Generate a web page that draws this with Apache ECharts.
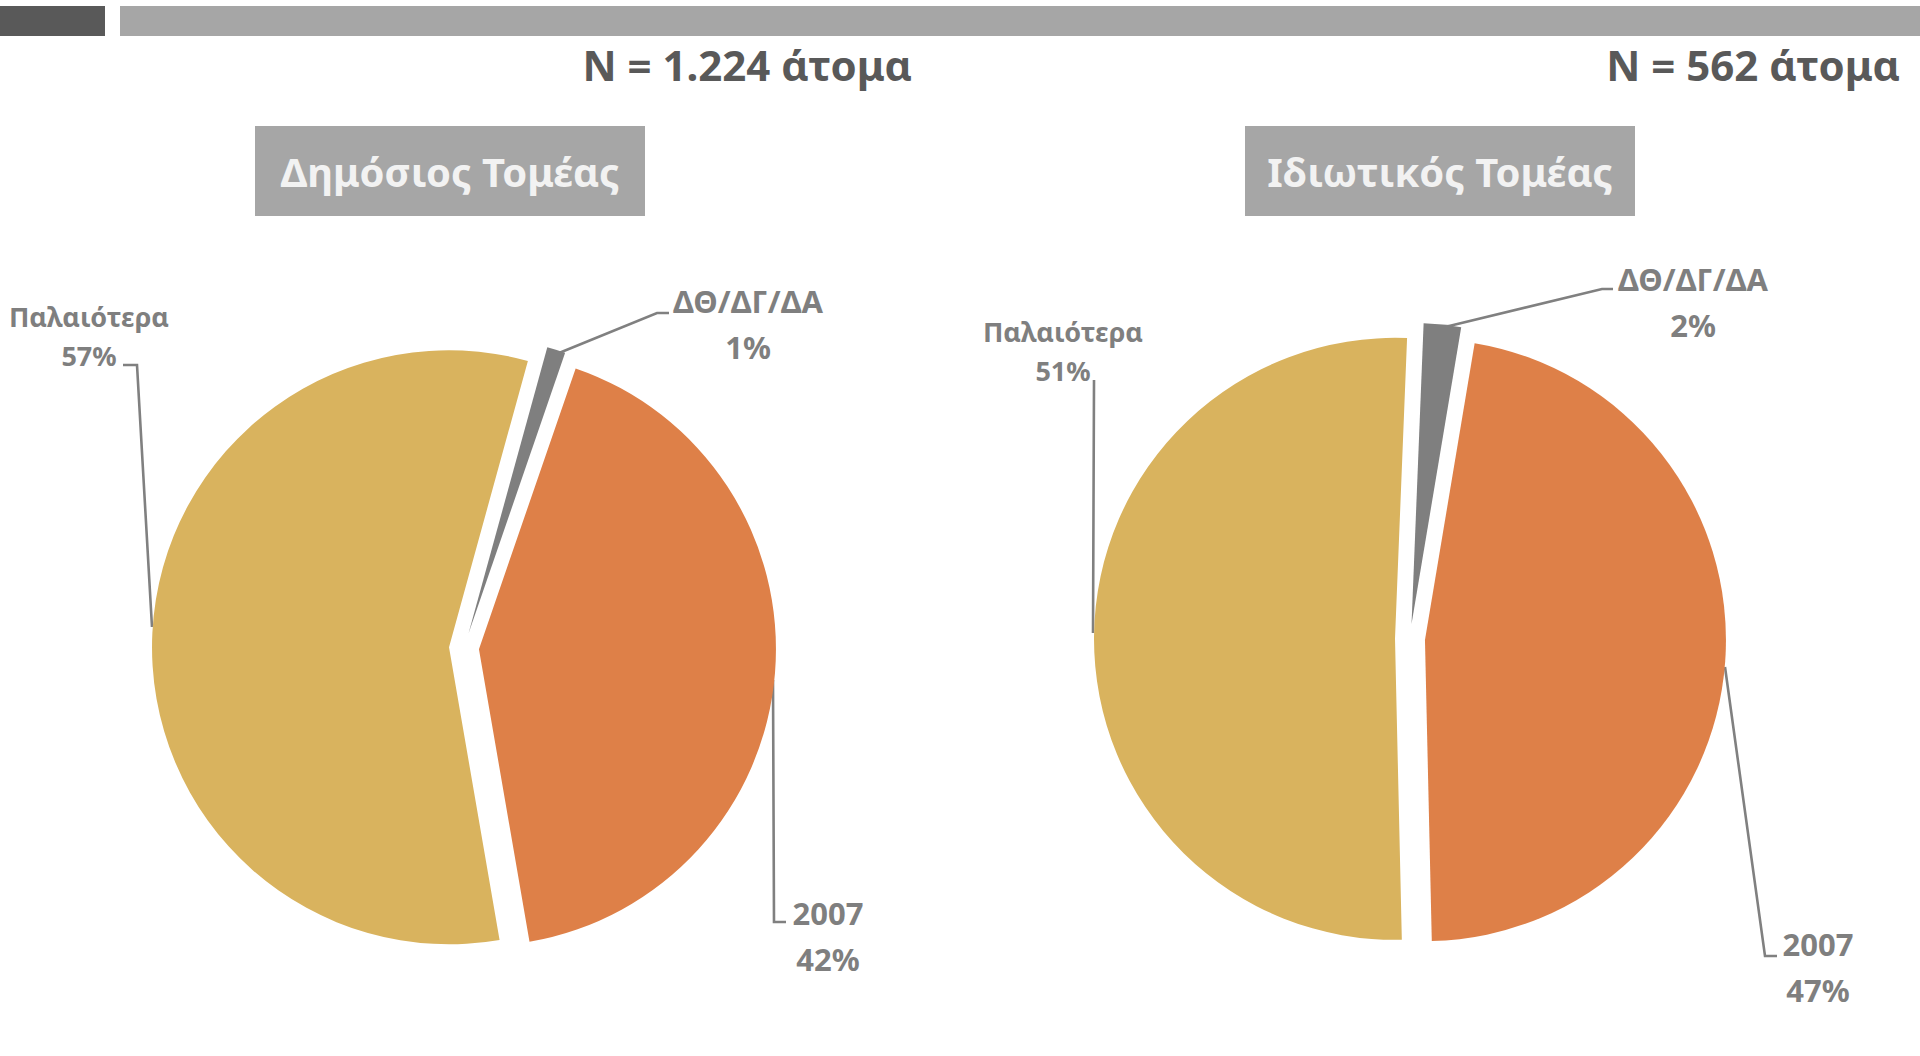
<!DOCTYPE html>
<html>
<head>
<meta charset="utf-8">
<script src="https://cdn.jsdelivr.net/npm/echarts@6/dist/echarts.min.js"></script>
<style>
html, body { margin: 0; padding: 0; background: #ffffff; }
#chartmain { width: 1920px; height: 1056px; }
</style>
</head>
<body>
<div id="chartmain"></div>
<script>
var categories = ['ΔΘ/ΔΓ/ΔΑ', '2007', 'Παλαιότερα'];
var publicValues = [1, 42, 57];
var privateValues = [2, 47, 51];
var panelTitles = ['Δημόσιος Τομέας', 'Ιδιωτικός Τομέας'];
var sampleSizes = ['N = 1.224 άτομα', 'N = 562 άτομα'];
var sliceColors = ['#7f7f7f', '#de8048', '#d9b35e'];

var EXPLODE = 15;

// where each label sits (centre) and its leader line, same order as categories
var publicLabels = [
    { x: 748, y: 324, line: [[559, 353], [657, 313], [669, 313]] },
    { x: 828, y: 936, line: [[773, 680], [774, 922], [786, 922]] },
    { x: 89, y: 336, line: [[152, 627], [137, 365], [123, 365]] }
];
var privateLabels = [
    { x: 1693, y: 302, line: [[1445, 327], [1602, 289], [1613, 289]] },
    { x: 1818, y: 967, line: [[1725, 667], [1765, 956], [1777, 956]] },
    { x: 1063, y: 351, line: [[1093, 633], [1094, 382], [1094, 380]] }
];

// shift of an exploded slice, label and line live inside the moved sector
function sliceShift(values, startAngle, idx) {
    var total = 0, before = 0;
    values.forEach(function (v, i) { total += v; if (i < idx) before += v; });
    var mid = (startAngle - (before + values[idx] / 2) / total * 360) * Math.PI / 180;
    return [EXPLODE * Math.cos(mid), -EXPLODE * Math.sin(mid)];
}

function makePie(values, center, radius, startAngle, labels) {
    return {
        type: 'pie',
        center: center,
        radius: radius,
        startAngle: startAngle,
        clockwise: true,
        selectedMode: 'multiple',
        selectedOffset: EXPLODE,
        avoidLabelOverlap: false,
        emphasis: { disabled: true },
        label: {
            show: true,
            position: 'outside',
            formatter: '{b}\n{c}%',
            color: '#7f7f7f',
            fontFamily: 'Noto Sans',
            fontWeight: 'bold',
            fontSize: 31,
            lineHeight: 46
        },
        labelLine: { show: true, lineStyle: { color: '#808080', width: 2.6 } },
        labelLayout: function (p) {
            var l = labels[p.dataIndex];
            var r = p.labelRect;
            var s = sliceShift(values, startAngle, p.dataIndex);
            var ax = p.align === 'left' ? r.x : (p.align === 'right' ? r.x + r.width : r.x + r.width / 2);
            var ay = p.verticalAlign === 'top' ? r.y : (p.verticalAlign === 'bottom' ? r.y + r.height : r.y + r.height / 2);
            var pts = l.line.map(function (pt) { return [pt[0] - s[0], pt[1] - s[1]]; });
            return {
                align: 'center',
                verticalAlign: 'middle',
                dx: l.x - ax - s[0],
                dy: l.y - ay - s[1],
                labelLinePoints: pts
            };
        },
        data: categories.map(function (name, i) {
            var d = { name: name, value: values[i], selected: true, itemStyle: { color: sliceColors[i] } };
            if (i === 2) {
                d.label = { fontSize: 27, lineHeight: 39 };
            }
            return d;
        })
    };
}

function titleBox(x, text) {
    return {
        type: 'group',
        children: [
            { type: 'rect', shape: { x: x, y: 126, width: 390, height: 90 }, style: { fill: '#a6a6a6' } },
            {
                type: 'text', x: x + 195, y: 171,
                style: { text: text, fill: '#f2f2f2', fontFamily: 'Noto Sans', fontWeight: 'bold', fontSize: 40, align: 'center', verticalAlign: 'middle' }
            }
        ]
    };
}

var chart = echarts.init(document.getElementById('chartmain'), null, { renderer: 'svg' });
chart.setOption({
    animation: false,
    backgroundColor: '#ffffff',
    graphic: [
        { type: 'rect', shape: { x: 0, y: 6, width: 105, height: 30 }, style: { fill: '#595959' } },
        { type: 'rect', shape: { x: 120, y: 6, width: 1800, height: 30 }, style: { fill: '#a6a6a6' } },
        {
            type: 'text', x: 912, y: 64,
            style: { text: sampleSizes[0], fill: '#595959', fontFamily: 'Noto Sans', fontWeight: 'bold', fontSize: 42, align: 'right', verticalAlign: 'middle' }
        },
        {
            type: 'text', x: 1900, y: 64,
            style: { text: sampleSizes[1], fill: '#595959', fontFamily: 'Noto Sans', fontWeight: 'bold', fontSize: 42, align: 'right', verticalAlign: 'middle' }
        },
        {
            type: 'line', shape: { x1: 944, y1: 126, x2: 944, y2: 1056 },
            style: { stroke: '#000000', lineWidth: 3, shadowBlur: 4, shadowColor: 'rgba(0,0,0,0.35)', shadowOffsetX: 2 }
        },
        titleBox(255, panelTitles[0]),
        titleBox(1245, panelTitles[1])
    ],
    series: [
        makePie(publicValues, [464, 648], 297, 74.6, publicLabels),
        makePie(privateValues, [1410, 639], 301, 87.7, privateLabels)
    ]
});
</script>
</body>
</html>
